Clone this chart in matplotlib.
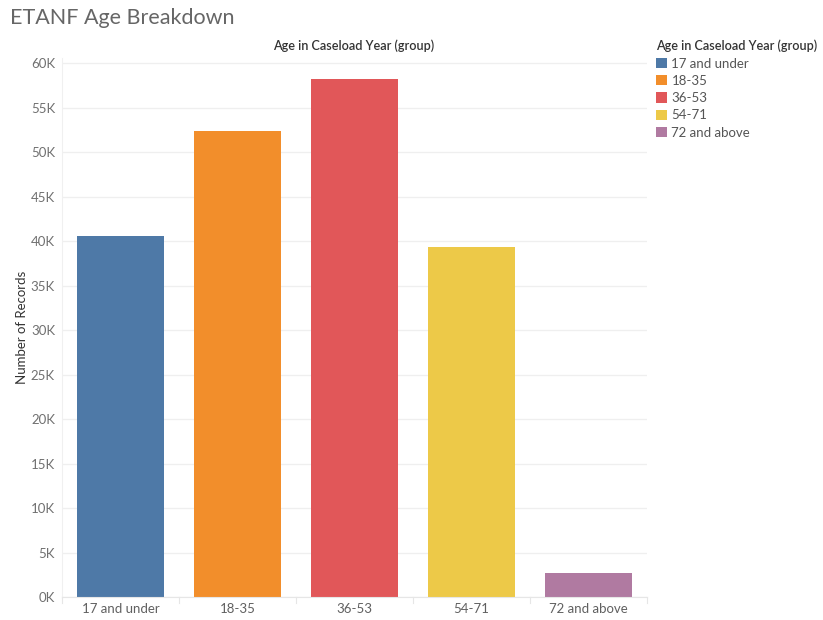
import matplotlib
matplotlib.use("Agg")
import matplotlib.pyplot as plt
from matplotlib.ticker import FuncFormatter, MultipleLocator

plt.rcParams['font.family'] = ['Lato', 'DejaVu Sans']

categories = ["17 and under", "18-35", "36-53", "54-71", "72 and above"]
records = [40600, 52400, 58250, 39400, 2700]
colors = ["#4e79a7", "#f28e2b", "#e15759", "#edc948", "#b07aa1"]

W, H = 823, 620
fig = plt.figure(figsize=(W / 100, H / 100), dpi=100)
ax = fig.add_axes([62 / W, 1 - 597 / H, (647 - 62) / W, (597 - 58) / H])

x = range(len(categories))
bars = ax.bar(x, records, width=0.75, color=colors, linewidth=0)

ax.set_xlim(-0.5, len(categories) - 0.5)
ax.set_ylim(0, 60600)
ax.yaxis.set_major_locator(MultipleLocator(5000))
ax.yaxis.set_major_formatter(FuncFormatter(lambda v, p: f"{int(v / 1000)}K"))
ax.set_xticks(list(x))
ax.set_xticklabels(categories)

ax.grid(axis="y", color="#efefef", linewidth=0.9)
ax.set_axisbelow(True)
for side in ["top", "right"]:
    ax.spines[side].set_visible(False)
ax.spines["left"].set_color("#f0f0f0")
ax.spines["bottom"].set_color("#e6e6e6")
ax.tick_params(axis="y", length=0, pad=5, labelsize=9.5, labelcolor="#707070")
ax.tick_params(axis="x", length=0, pad=4, labelsize=9.5, labelcolor="#606060")

# light separators between category columns below the axis
for b in [i - 0.5 for i in range(len(categories) + 1)]:
    ax.plot([b, b], [0, -700], color="#e6e6e6", linewidth=0.8, clip_on=False)

ax.set_ylabel("Number of Records", fontsize=9.5, color="#333333")
ax.yaxis.set_label_coords(-34 / (647 - 62), 0.5)

fig.text(10 / W, 1 - 18 / H, "ETANF Age Breakdown", fontsize=15.5, color="#666666",
         fontweight="normal", va="center", ha="left")
fig.text(354 / W, 1 - 46 / H, "Age in Caseload Year (group)", fontsize=9.1,
         color="#333333", fontweight="semibold", ha="center", va="center")

leg = fig.legend(bars, categories, loc="upper left", bbox_to_anchor=(653 / W, 1 - 37 / H),
                 title="Age in Caseload Year (group)", frameon=False, fontsize=9.5,
                 title_fontsize=9.1, handlelength=0.85, handleheight=0.85,
                 handletextpad=0.35, labelspacing=0.4, alignment="left",
                 borderaxespad=0, borderpad=0.2)
leg.get_title().set_fontweight("semibold")
leg.get_title().set_color("#333333")
for t in leg.get_texts():
    t.set_color("#555555")

fig.savefig("out.png", dpi=100)
